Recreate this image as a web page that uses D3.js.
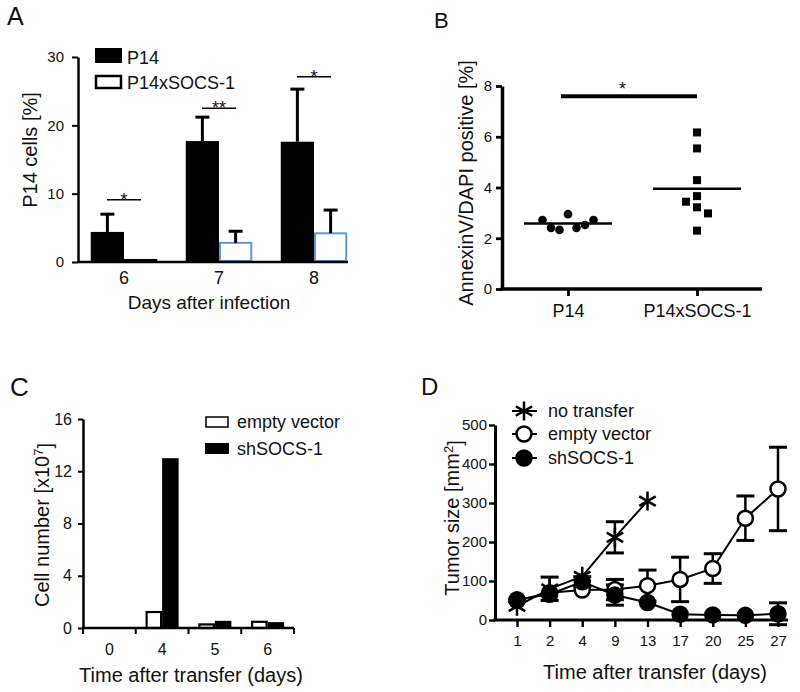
<!DOCTYPE html>
<html><head><meta charset="utf-8">
<script src="https://cdn.jsdelivr.net/npm/d3@7"></script>
<style>
body{margin:0;background:#fff}
svg{display:block}
text{font-family:"Liberation Sans",Arial,sans-serif;fill:#111}
</style>
</head><body>
<svg id="c" width="800" height="692"></svg>
<script>
// ---------- Panel A data ----------
const daysA = ["6","7","8"];
const p14A = [4.4, 17.7, 17.6];
const p14AErr = [2.6, 3.5, 7.7];
const socsA = [0.3, 2.8, 4.2];
const socsAErr = [0, 1.7, 3.4];
const sigA = ["*","**","*"];
const sigALevel = [9.1, 22.5, 27.1];
const ticksA = [0,10,20,30];
// ---------- Panel B data ----------
const groupsB = ["P14","P14xSOCS-1"];
const p14B = [2.72, 2.41, 2.33, 2.95, 2.41, 2.52, 2.72];
const socsB = [6.17, 5.54, 4.29, 3.44, 3.22, 3.66, 2.98, 2.30];
const ticksB = [0,2,4,6,8];
const sigBLevel = 7.6;
// ---------- Panel C data ----------
const daysC = ["0","4","5","6"];
const emptyC = [0, 1.3, 0.35, 0.55];
const shC = [0, 13.0, 0.55, 0.45];
const ticksC = [0,4,8,12,16];
// ---------- Panel D data ----------
const daysD = ["1","2","4","9","13","17","20","25","27"];
const noTransferD = [35, 80, 112, 212, 305];
const noTransferDErr = [0, 30, 0, 40, 0];
const emptyD = [50, 70, 77, 78, 88, 104, 132, 261, 336];
const emptyDErr = [0, 0, 0, 26, 40, 57, 38, 57, 107];
const shD = [52, 66, 98, 64, 45, 15, 13, 12, 16];
const shDErr = [0, 0, 13, 26, 0, 0, 0, 0, 28];
const ticksD = [0,100,200,300,400,500];

const svg = d3.select("#c");

function styleAxis(g, w, fs){
  g.selectAll("path.domain").attr("stroke","#000").attr("stroke-width",w);
  g.selectAll(".tick line").attr("stroke","#000").attr("stroke-width",w*0.8);
  g.selectAll(".tick text").attr("fill","#111").style("font-size",fs+"px")
   .style("font-family",'"Liberation Sans",Arial,sans-serif');
}
function panelLabel(t,x,y,fs){
  svg.append("text").attr("x",x).attr("y",y).style("font-size",fs+"px").text(t);
}

// =================== PANEL A ===================
(function(){
  const g = svg.append("g");
  const y = d3.scaleLinear().domain([0,30]).range([262,57]);
  const x = d3.scaleBand().domain(daysA).range([76.5,361.5]).paddingInner(0.3).paddingOuter(0.15);
  const xs = d3.scaleBand().domain(["P14","SOCS"]).range([0,x.bandwidth()]);
  const ax0 = 78;
  g.selectAll("rect.p14").data(daysA).join("rect")
    .attr("x",d=>x(d)+xs("P14")).attr("width",xs.bandwidth())
    .attr("y",(d,i)=>y(p14A[i])).attr("height",(d,i)=>y(0)-y(p14A[i])).attr("fill","#000");
  g.selectAll("rect.socs").data(daysA).join("rect")
    .attr("x",d=>x(d)+xs("SOCS")+1).attr("width",xs.bandwidth()-2)
    .attr("y",(d,i)=>y(socsA[i])).attr("height",(d,i)=>Math.max(0,y(0)-y(socsA[i])-1))
    .attr("fill","#fff").attr("stroke",(d,i)=>socsA[i]<1?"#000":"#5b9bd5").attr("stroke-width",2);
  function err(vals, errs, key){
    daysA.forEach((d,i)=>{
      if(!errs[i]) return;
      const cx = x(d)+xs(key)+xs.bandwidth()/2;
      g.append("line").attr("x1",cx).attr("x2",cx).attr("y1",y(vals[i])).attr("y2",y(vals[i]+errs[i]))
        .attr("stroke","#000").attr("stroke-width",3);
      g.append("line").attr("x1",cx-7).attr("x2",cx+7).attr("y1",y(vals[i]+errs[i])).attr("y2",y(vals[i]+errs[i]))
        .attr("stroke","#000").attr("stroke-width",3);
    });
  }
  err(p14A,p14AErr,"P14"); err(socsA,socsAErr,"SOCS");
  daysA.forEach((d,i)=>{
    const c = x(d)+x.bandwidth()/2;
    g.append("line").attr("x1",c-17).attr("x2",c+17).attr("y1",y(sigALevel[i])).attr("y2",y(sigALevel[i]))
      .attr("stroke","#000").attr("stroke-width",1.5);
    g.append("text").attr("x",c).attr("y",y(sigALevel[i])+6).attr("text-anchor","middle")
      .style("font-size","18px").text(sigA[i]);
  });
  const ya = g.append("g").attr("transform",`translate(${ax0},0)`)
    .call(d3.axisLeft(y).tickValues(ticksA).tickSize(6).tickSizeOuter(0).tickPadding(8));
  styleAxis(ya,2.5,15);
  g.append("line").attr("x1",ax0-1).attr("x2",348).attr("y1",y(0)).attr("y2",y(0)).attr("stroke","#000").attr("stroke-width",2.5);
  const xa = g.append("g").attr("transform",`translate(0,${y(0)})`)
    .call(d3.axisBottom(x).tickSize(0).tickPadding(9));
  xa.select(".domain").remove();
  styleAxis(xa,2.5,18);
  g.append("text").attr("transform","translate(37,150) rotate(-90)").attr("text-anchor","middle")
    .style("font-size","20px").text("P14 cells [%]");
  g.append("text").attr("x",209).attr("y",309).attr("text-anchor","middle")
    .style("font-size","19px").text("Days after infection");
  g.append("rect").attr("x",95).attr("y",48).attr("width",27).attr("height",15).attr("fill","#000");
  g.append("text").attr("x",127).attr("y",64).style("font-size","18px").text("P14");
  g.append("rect").attr("x",96).attr("y",76).attr("width",25).attr("height",12).attr("fill","#fff").attr("stroke","#000").attr("stroke-width",2.5);
  g.append("text").attr("x",127).attr("y",89).style("font-size","18px").text("P14xSOCS-1");
  panelLabel("A",7,25,25);
})();

// =================== PANEL B ===================
(function(){
  const g = svg.append("g");
  const y = d3.scaleLinear().domain([0,8]).range([289,86]);
  const x = d3.scalePoint().domain(groupsB).range([568,697]);
  const ax0 = 502;
  function rowJitter(vals, thresh, spacing){
    const idx = d3.range(vals.length).sort((a,b)=>vals[a]-vals[b]);
    const off = new Array(vals.length).fill(0);
    const bins=[]; let cur=[], start=null;
    idx.forEach(i=>{
      if(start===null || vals[i]-start>thresh){ if(cur.length) bins.push(cur); cur=[i]; start=vals[i]; }
      else cur.push(i);
    });
    if(cur.length) bins.push(cur);
    bins.forEach(b=>{ b.sort((a,c)=>a-c); b.forEach((i,j)=>off[i]=(j-(b.length-1)/2)*spacing); });
    return off;
  }
  const offP = rowJitter(p14B,0.625,8.5);
  const offS = rowJitter(socsB,0.625,11);
  const ya = g.append("g").attr("transform",`translate(${ax0},0)`)
    .call(d3.axisLeft(y).tickValues(ticksB).tickSize(6).tickSizeOuter(0).tickPadding(4));
  styleAxis(ya,3.5,15);
  g.append("line").attr("x1",ax0-1.5).attr("x2",762).attr("y1",y(0)).attr("y2",y(0)).attr("stroke","#000").attr("stroke-width",3.5);
  const xa = g.append("g").attr("transform",`translate(0,${y(0)})`)
    .call(d3.axisBottom(x).tickSize(7).tickSizeOuter(0).tickPadding(8));
  xa.select(".domain").remove();
  styleAxis(xa,3.5,18);
  g.selectAll("circle.p").data(p14B).join("circle")
    .attr("cx",(d,i)=>x(groupsB[0])+offP[i]).attr("cy",d=>y(d)).attr("r",4.3).attr("fill","#000");
  g.selectAll("rect.s").data(socsB).join("rect")
    .attr("x",(d,i)=>x(groupsB[1])+offS[i]-4).attr("y",d=>y(d)-4).attr("width",8).attr("height",8).attr("fill","#000");
  [[p14B,0],[socsB,1]].forEach(([v,k])=>{
    const m = d3.mean(v), c = x(groupsB[k]);
    g.append("line").attr("x1",c-44).attr("x2",c+44).attr("y1",y(m)).attr("y2",y(m)).attr("stroke","#000").attr("stroke-width",2.5);
  });
  g.append("line").attr("x1",x(groupsB[0])-7).attr("x2",x(groupsB[1])).attr("y1",y(sigBLevel)).attr("y2",y(sigBLevel))
    .attr("stroke","#000").attr("stroke-width",4);
  g.append("text").attr("x",(x(groupsB[0])+x(groupsB[1]))/2-10).attr("y",y(sigBLevel)-1).attr("text-anchor","middle")
    .style("font-size","18px").text("*");
  g.append("text").attr("transform","translate(473,183) rotate(-90)").attr("text-anchor","middle")
    .style("font-size","20px").text("AnnexinV/DAPI positive [%]");
  panelLabel("B",434,28,22);
})();

// =================== PANEL C ===================
(function(){
  const g = svg.append("g");
  const y = d3.scaleLinear().domain([0,16]).range([628,419]);
  const x = d3.scaleBand().domain(daysC).range([83,294]);
  const bw = 16.5;
  const ax0 = 83;
  g.selectAll("rect.e").data(daysC).join("rect")
    .attr("x",d=>x(d)+x.bandwidth()/2-bw+1).attr("width",bw-2)
    .attr("y",(d,i)=>y(emptyC[i])+1).attr("height",(d,i)=>Math.max(0,y(0)-y(emptyC[i])-1))
    .attr("fill","#fff").attr("stroke","#000").attr("stroke-width",2.2);
  g.selectAll("rect.s").data(daysC).join("rect")
    .attr("x",d=>x(d)+x.bandwidth()/2).attr("width",bw)
    .attr("y",(d,i)=>y(shC[i])).attr("height",(d,i)=>y(0)-y(shC[i])).attr("fill","#000");
  const ya = g.append("g").attr("transform",`translate(${ax0},0)`)
    .call(d3.axisLeft(y).tickValues(ticksC).tickSize(5).tickSizeOuter(0).tickPadding(6));
  styleAxis(ya,2.5,16);
  g.append("line").attr("x1",ax0-1).attr("x2",294).attr("y1",y(0)).attr("y2",y(0)).attr("stroke","#000").attr("stroke-width",2.5);
  const bounds = daysC.map(d=>x(d)).concat([x.range()[1]]);
  g.selectAll("line.bt").data(bounds).join("line")
    .attr("x1",d=>d).attr("x2",d=>d).attr("y1",y(0)).attr("y2",y(0)+6).attr("stroke","#000").attr("stroke-width",2);
  g.selectAll("text.xl").data(daysC).join("text")
    .attr("x",d=>x(d)+x.bandwidth()/2).attr("y",655).attr("text-anchor","middle").style("font-size","16px").text(d=>d);
  const t = g.append("text").attr("transform","translate(49,525) rotate(-90)").attr("text-anchor","middle").style("font-size","20px");
  t.append("tspan").text("Cell number [x10");
  t.append("tspan").attr("dy","-0.45em").style("font-size","13px").text("7");
  t.append("tspan").attr("dy","0.45em").text("]");
  g.append("text").attr("x",191).attr("y",682).attr("text-anchor","middle").style("font-size","20px").text("Time after transfer (days)");
  g.append("rect").attr("x",206).attr("y",417).attr("width",22).attr("height",10).attr("fill","#fff").attr("stroke","#000").attr("stroke-width",1.5);
  g.append("text").attr("x",237).attr("y",428).style("font-size","18px").text("empty vector");
  g.append("rect").attr("x",205).attr("y",443).attr("width",24).attr("height",11).attr("fill","#000");
  g.append("text").attr("x",237).attr("y",455).style("font-size","18px").text("shSOCS-1");
  panelLabel("C",10,396,26);
})();

// =================== PANEL D ===================
(function(){
  const g = svg.append("g");
  const y = d3.scaleLinear().domain([0,500]).range([620,425]);
  const x = d3.scalePoint().domain(daysD).range([517,778]);
  const ax0 = 495;
  const ya = g.append("g").attr("transform",`translate(${ax0},0)`)
    .call(d3.axisLeft(y).tickValues(ticksD).tickSize(6).tickSizeOuter(0).tickPadding(2));
  styleAxis(ya,3,15);
  g.append("line").attr("x1",ax0-1.5).attr("x2",788).attr("y1",y(0)).attr("y2",y(0)).attr("stroke","#000").attr("stroke-width",3);
  const xa = g.append("g").attr("transform",`translate(0,${y(0)})`)
    .call(d3.axisBottom(x).tickSize(7).tickSizeOuter(0).tickPadding(8));
  xa.select(".domain").remove();
  styleAxis(xa,3,15);
  const series = [
    {vals:noTransferD, errs:noTransferDErr, type:"star"},
    {vals:emptyD, errs:emptyDErr, type:"open"},
    {vals:shD, errs:shDErr, type:"filled"}
  ];
  const line = d3.line().x(d=>x(d[0])).y(d=>y(d[1]));
  function asterisk(r){ const t=r*Math.sqrt(3)/2, u=r/2;
    return `M0,${-r}L0,${r}M${-t},${-u}L${t},${u}M${-t},${u}L${t},${-u}`; }
  function marker(sel, type){
    if(type==="star") sel.append("path").attr("d",asterisk(9.5)).attr("stroke","#000").attr("stroke-width",2.5).attr("fill","none");
    else sel.append("circle").attr("r",7.5).attr("fill",type==="filled"?"#000":"#fff").attr("stroke","#000").attr("stroke-width",2.5);
  }
  series.forEach(s=>{
    const pts = s.vals.map((v,i)=>[daysD[i],v]);
    g.append("path").attr("d",line(pts)).attr("fill","none").attr("stroke","#000").attr("stroke-width",2);
    pts.forEach((p,i)=>{
      const e = s.errs[i]; if(!e) return;
      const cx = x(p[0]);
      g.append("line").attr("x1",cx).attr("x2",cx).attr("y1",y(p[1]-e)).attr("y2",y(p[1]+e)).attr("stroke","#000").attr("stroke-width",2.5);
      [p[1]-e,p[1]+e].forEach(v=>g.append("line").attr("x1",cx-9).attr("x2",cx+9).attr("y1",y(v)).attr("y2",y(v)).attr("stroke","#000").attr("stroke-width",3));
    });
  });
  series.forEach(s=>{
    s.vals.forEach((v,i)=>{
      const m = g.append("g").attr("transform",`translate(${x(daysD[i])},${y(v)})`);
      marker(m,s.type);
    });
  });
  const legNames = ["no transfer","empty vector","shSOCS-1"];
  const legY = [411,434,458];
  series.forEach((s,k)=>{
    g.append("line").attr("x1",512).attr("x2",537).attr("y1",legY[k]).attr("y2",legY[k]).attr("stroke","#000").attr("stroke-width",2);
    marker(g.append("g").attr("transform",`translate(524,${legY[k]})`), s.type);
    g.append("text").attr("x",548).attr("y",legY[k]+6).style("font-size","18px").text(legNames[k]);
  });
  const t = g.append("text").attr("transform","translate(459,518) rotate(-90)").attr("text-anchor","middle").style("font-size","20px");
  t.append("tspan").text("Tumor size [mm");
  t.append("tspan").attr("dy","-0.45em").style("font-size","13px").text("2");
  t.append("tspan").attr("dy","0.45em").text("]");
  g.append("text").attr("x",655).attr("y",679).attr("text-anchor","middle").style("font-size","20px").text("Time after transfer (days)");
  panelLabel("D",421,395,24);
})();
</script>
</body></html>
